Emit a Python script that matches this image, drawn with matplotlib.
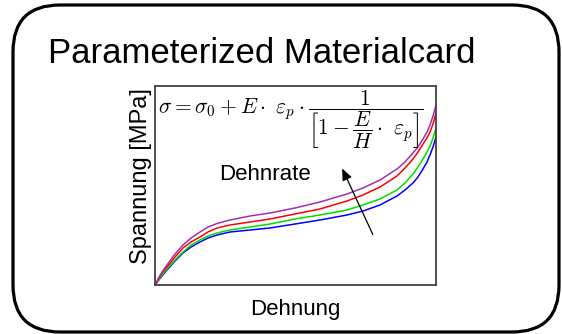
import numpy as np
import matplotlib
matplotlib.use('Agg')
from matplotlib import pyplot as plt
from matplotlib.patches import FancyBboxPatch

W, H = 562, 334

# strain / stress in plot units (axes run 0..281 by 0..199)
strain = [0, 3, 7, 12, 20, 28, 36, 45, 53, 62, 75, 95, 115, 140, 165, 192, 208,
          225, 242, 250, 258, 263, 268, 272, 275, 278, 281]
stress_purple = [0, 6, 13, 20, 31, 40, 47, 53, 58, 61.5, 65, 69, 72, 77, 83, 91, 97,
                 105, 116, 123, 132, 138, 146, 153, 160, 169, 180]
stress_red = [0, 5, 12, 18, 28, 37, 43, 48, 53, 57, 60, 63, 66, 71, 76, 84, 90,
              98, 109, 117, 126, 133, 141, 147, 153, 161, 172]
stress_green = [0, 4, 10, 16, 25, 33, 40, 45, 49, 52, 55, 58, 61, 66, 70, 75, 80,
                86, 95, 102, 111, 118, 126, 133, 139, 147, 157]
stress_blue = [0, 4, 9, 15, 24, 32, 38, 43, 47, 50, 53, 55, 57, 61, 65, 70, 74,
               80, 89, 95, 102, 108, 116, 123, 130, 138, 148]

curves = [(stress_blue, '#0000ff'), (stress_green, '#00e000'),
          (stress_red, '#ff0000'), (stress_purple, '#a030b0')]


def fx(x):
    return x / W


def fy(y):
    return 1 - y / H


def main():
    fig = plt.figure(figsize=(W / 100, H / 100), dpi=100)
    plt.rcParams['font.family'] = ['Liberation Sans', 'DejaVu Sans']
    plt.rcParams['mathtext.fontset'] = 'cm'

    # rounded card outline, kept behind the plot
    card = FancyBboxPatch((0.13, 0.02), 5.46, 3.27, boxstyle='round,pad=0,rounding_size=0.47',
                          transform=fig.dpi_scale_trans, facecolor='none', edgecolor='black',
                          linewidth=2.3, zorder=-1)
    fig.patches.append(card)

    fig.text(fx(262), fy(63), 'Parameterized Materialcard', ha='center', va='baseline',
             fontsize=25, color='black')

    ax = fig.add_axes([fx(155), fy(285), 281 / W, 199 / H])
    for stress, color in curves:
        ax.plot(strain, stress, color=color, linewidth=1.1)

    ax.set_xlim(0, 281)
    ax.set_ylim(0, 199)
    ax.set_xticks([])
    ax.set_yticks([])
    for spine in ax.spines.values():
        spine.set_color('#404040')
        spine.set_linewidth(1.3)

    ax.text(3, 165, r'$\sigma = \sigma_0 + E\cdot\ \varepsilon_p \cdot \dfrac{1}{\left[1-\dfrac{E}{H}\cdot\ \varepsilon_p\right]}$',
            ha='left', va='center', fontsize=15.5)

    ax.text(110, 111, 'Dehnrate', ha='center', va='center', fontsize=16)

    ax.annotate('', xy=(186, 119), xytext=(219, 48),
                arrowprops=dict(arrowstyle='-|>,head_length=0.7,head_width=0.3',
                                color='black', linewidth=0.9))

    fig.text(fx(295), fy(310), 'Dehnung', ha='center', va='center', fontsize=16)
    fig.text(fx(141), fy(176), 'Spannung [MPa]', ha='center', va='center', rotation=90,
             fontsize=17)

    fig.savefig('out.png', dpi=100)


if __name__ == '__main__':
    main()
